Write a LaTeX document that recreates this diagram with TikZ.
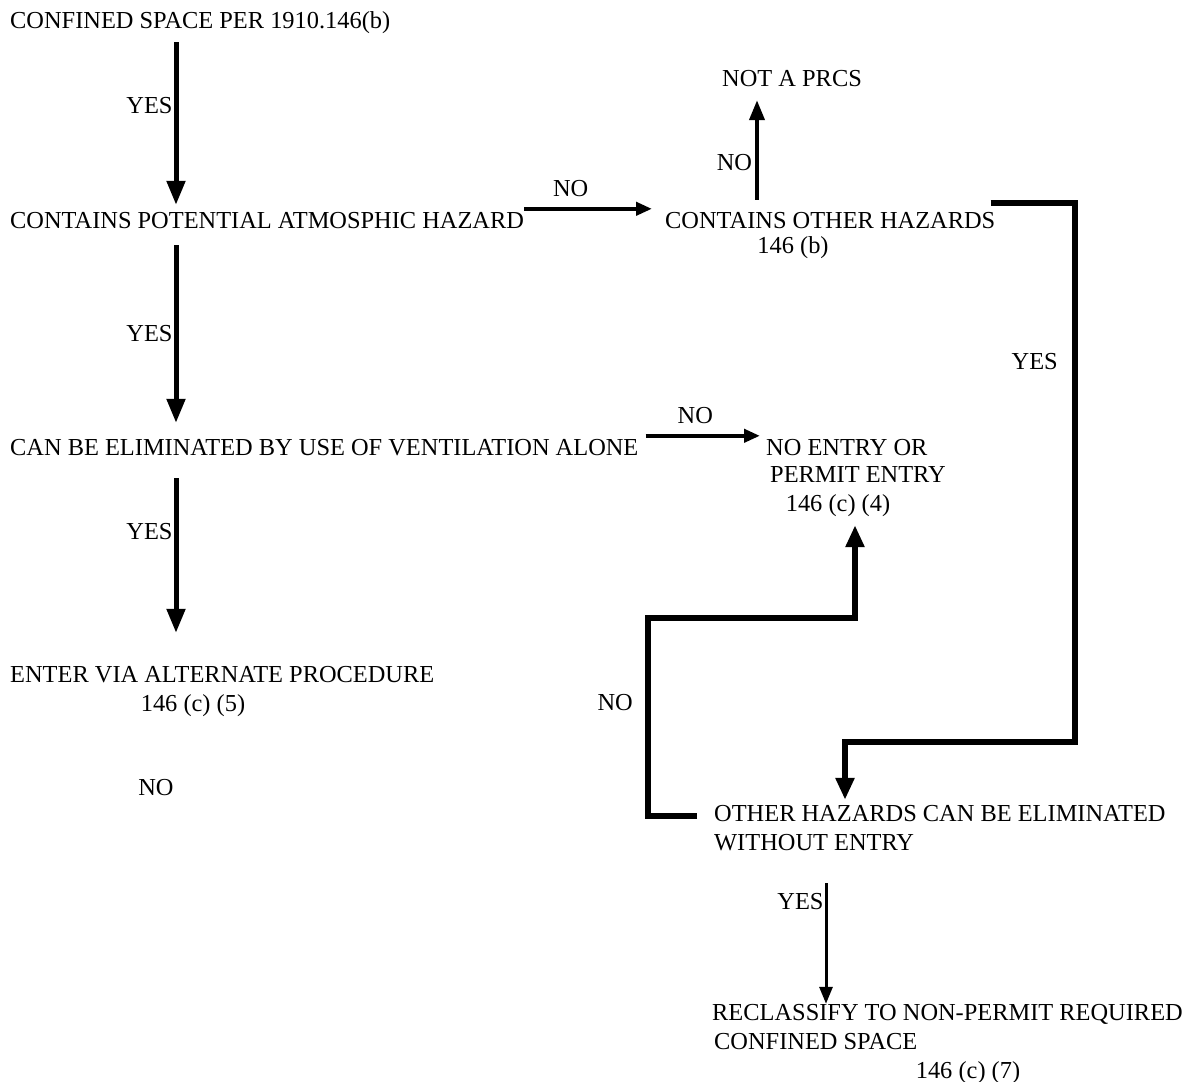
\documentclass[tikz,border=0pt]{standalone}
\usepackage{fontspec}
\setmainfont{Liberation Serif}
\usetikzlibrary{arrows.meta}

\begin{document}
\begin{tikzpicture}[
    x=1pt, y=-1pt,
    every node/.style={font=\fontsize{24.4}{29}\selectfont, inner sep=0pt,
      text height=16pt, text depth=5pt},
    stmt/.style={anchor=base west},
    ref/.style={anchor=base},
    flow/.style={draw, line width=5pt, -{Triangle[length=24pt, width=18pt]}},
    side/.style={draw, line width=4pt, -{Triangle[length=16pt, width=13pt]}},
    route/.style={draw, line width=6pt, -{Triangle[length=22pt, width=18pt]}},
    lastflow/.style={draw, line width=3pt, -{Triangle[length=17pt, width=13pt]}},
  ]
    \useasboundingbox (0,0) rectangle (1184,1082);

    % left column
    \node[stmt] (conf) at (10,28) {CONFINED SPACE PER 1910.146(b)};
    \node[stmt] (atmo) at (10,228) {CONTAINS POTENTIAL ATMOSPHIC HAZARD};
    \node[stmt] (vent) at (10,455) {CAN BE ELIMINATED BY USE OF VENTILATION ALONE};
    \node[stmt] (alt) at (10,682) {ENTER VIA ALTERNATE PROCEDURE};
    \node[ref] (alt ref) at (193,711) {146 (c) (5)};
    \node[ref] (stray no) at (156,795) {NO};

    % right column
    \node[stmt] (notprcs) at (722,86) {NOT A PRCS};
    \node[stmt] (other) at (665,228) {CONTAINS OTHER HAZARDS};
    \node[ref] (other ref) at (793,253) {146 (b)};
    \node[stmt] (noentry) at (766,455) {NO ENTRY OR};
    \node[stmt] (permit) at (770,482) {PERMIT ENTRY};
    \node[ref] (noentry ref) at (838,511) {146 (c) (4)};
    \node[stmt] (elim) at (714,821) {OTHER HAZARDS CAN BE ELIMINATED};
    \node[stmt] (without) at (714,850) {WITHOUT ENTRY};
    \node[stmt] (reclass) at (712,1020) {RECLASSIFY TO NON-PERMIT REQUIRED};
    \node[stmt] (confsp) at (714,1049) {CONFINED SPACE};
    \node[ref] (reclass ref) at (968,1078) {146 (c) (7)};

    \coordinate (bend right) at (1075,742);
    \coordinate (bend left) at (648,618);

    % yes branch down the left
    \draw[flow, shorten <=9pt, shorten >=7pt]
      ([xshift=166pt]conf.south west) -- ([xshift=166pt]atmo.north west)
      node[pos=0.42, left=1pt] {YES};
    \draw[flow, shorten <=12pt, shorten >=16pt]
      ([xshift=166pt]atmo.south west) -- ([xshift=166pt]vent.north west)
      node[pos=0.5, left=1pt] {YES};
    \draw[flow, shorten <=18pt, shorten >=33pt]
      ([xshift=166pt]vent.south west) -- ([xshift=166pt]alt.north west)
      node[pos=0.36, left=1pt] {YES};

    % no branches
    \draw[side, shorten >=13pt]
      ([yshift=3pt]atmo.north east) -- ([yshift=3pt]other.north west)
      node[pos=0.33, above=5pt] {NO};
    \draw[side, -{Triangle[length=20pt, width=15pt]}, shorten <=12pt, shorten >=9pt]
      ([xshift=92pt]other.north west) -- ([xshift=35pt]notprcs.south west)
      node[pos=0.39, left=3pt] {NO};
    \draw[side, shorten <=7pt, shorten >=6pt]
      ([yshift=3pt]vent.north east) -- ([yshift=3pt]noentry.north west)
      node[midway, above=5pt, xshift=-7pt] {NO};

    % other hazards
    \draw[route, shorten >=5pt]
      ([xshift=-5pt, yshift=9pt]other.north east) -| (bend right)
      -| ([xshift=131pt]elim.north west);
    \node[anchor=base east] (yes right) at (1058,369) {YES};
    \draw[route, shorten <=17pt, shorten >=9pt]
      (elim.west) -| (bend left) -| ([xshift=17pt]noentry ref.south);
    \node[anchor=base east] (no left) at (633,710) {NO};
    \draw[lastflow, shorten <=28pt]
      ([xshift=112pt]without.south west) -- ([xshift=114pt]reclass.north west)
      node[pos=0.33, left=1pt] {YES};
  \end{tikzpicture}
\end{document}
